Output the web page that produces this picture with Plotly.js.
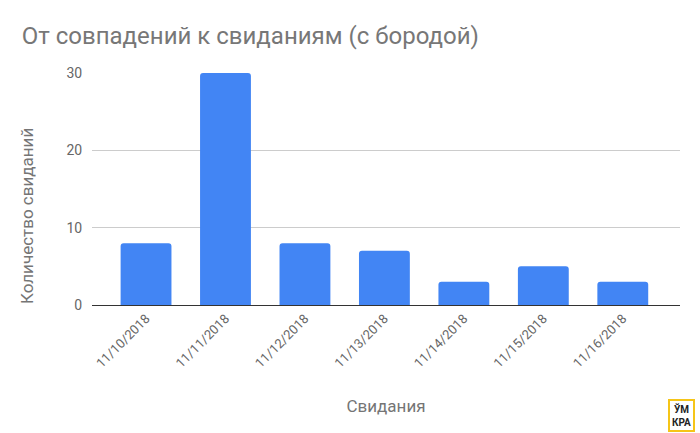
<!DOCTYPE html>
<html><head><meta charset="utf-8">
<script src="https://cdn.plot.ly/plotly-3.0.1.min.js"></script>
<style>html,body{margin:0;padding:0;background:#fff}#chart{width:700px;height:433px}</style>
</head><body><div id="chart"></div>
<script>
const categories = ["11/10/2018","11/11/2018","11/12/2018","11/13/2018","11/14/2018","11/15/2018","11/16/2018"];
const dates = [8, 30, 8, 7, 3, 5, 3];
const yTicks = [0, 10, 20, 30];

const trace = {
  type: 'bar', x: categories, y: dates,
  marker: {color: '#4285F4', cornerradius: 3},
  hoverinfo: 'x+y'
};
const layout = {
  width: 700, height: 433,
  margin: {l: 92, r: 20, t: 73, b: 128},
  paper_bgcolor: '#fff', plot_bgcolor: '#fff',
  font: {family: 'Roboto, Arial, sans-serif', color: '#666'},
  bargap: 0.36,
  title: {text: 'От совпадений к свиданиям (с бородой)', x: 0.031, xanchor: 'left', y: 0.918, yanchor: 'middle',
          font: {size: 24, color: '#777', family: 'Roboto, Arial, sans-serif'}},
  xaxis: {
    type: 'category', range: [-0.68, 6.72], tickangle: -45,
    tickfont: {size: 13, color: '#666'}, showgrid: false, zeroline: false,
    showline: true, linecolor: '#333', linewidth: 1, ticks: '',
    title: {text: 'Свидания', font: {size: 17, color: '#757575'}, standoff: 30}
  },
  yaxis: {
    range: [0, 30], tickvals: yTicks, ticktext: yTicks.map(String),
    tickfont: {size: 14, color: '#666'}, gridcolor: '#ccc', zeroline: false,
    ticks: 'outside', ticklen: 6, tickcolor: '#fff'
  },
  annotations: [{
    xref: 'paper', yref: 'paper', x: 27, y: 0.383, xref: 'paper',
    text: 'Количество свиданий', showarrow: false, textangle: -90,
    font: {size: 17, color: '#757575'}
  }, {
    xref: 'paper', yref: 'paper', x: 1.025, y: -0.405, xanchor: 'right', yanchor: 'top',
    text: '<b>ЎМ<br>КРА</b>', showarrow: false, align: 'center',
    font: {size: 10, color: '#222'}, bordercolor: '#F5C518', borderwidth: 2, borderpad: 2, bgcolor: '#fff'
  }],
  showlegend: false
};
// y-axis title placed as annotation at pixel x≈27 (convert to paper coords)
layout.annotations[0].x = (27 - 92) / (700 - 92 - 20);
layout.annotations[0].xanchor = 'center';
layout.annotations[0].y = (305 - 216) / (305 - 73);
layout.annotations[0].yanchor = 'middle';
Plotly.newPlot('chart', [trace], layout, {displayModeBar: false, staticPlot: true});
</script></body></html>
